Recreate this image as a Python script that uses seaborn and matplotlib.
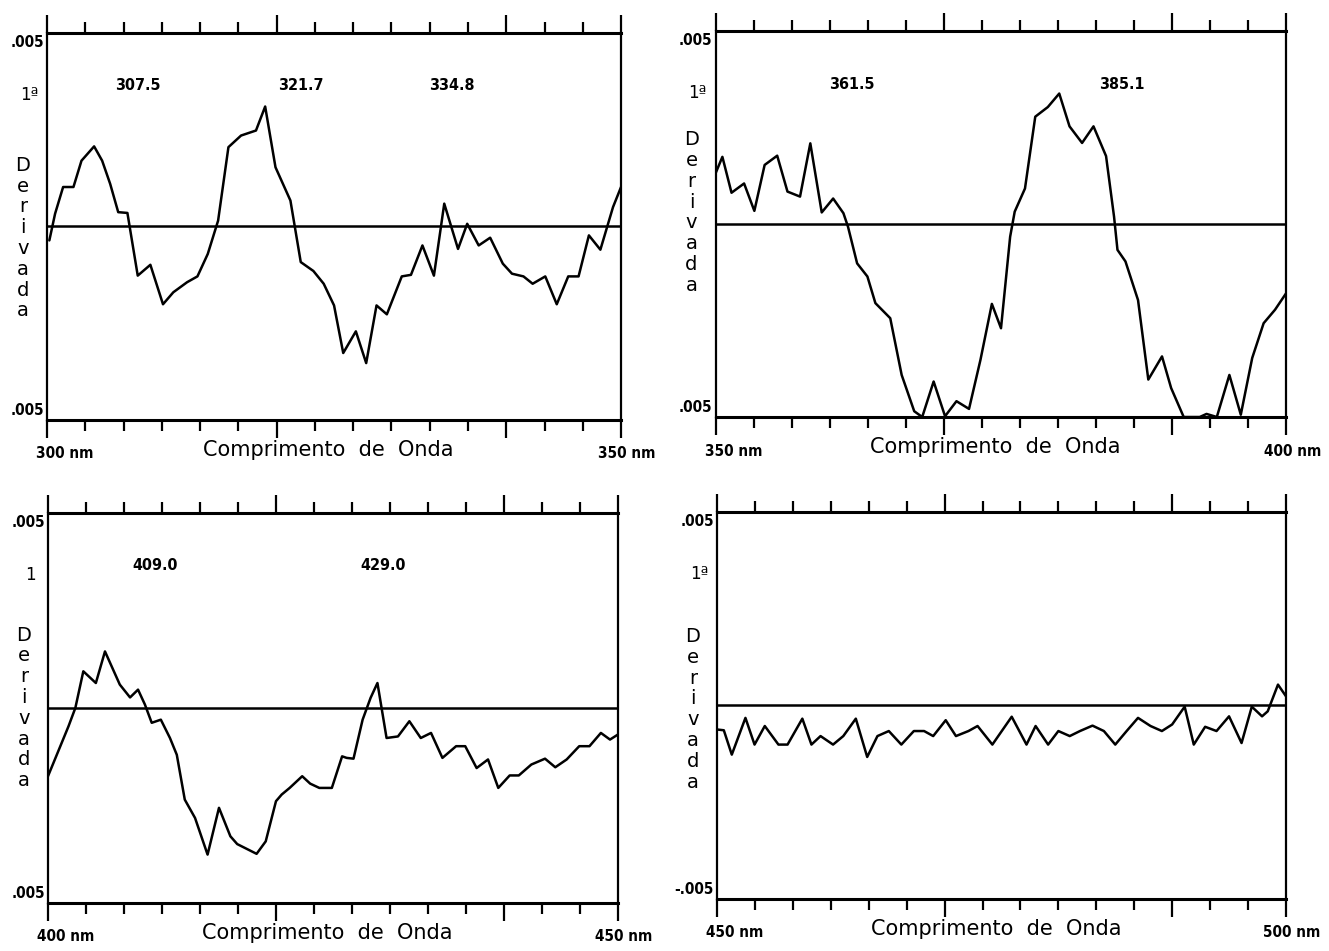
import numpy as np
import pandas as pd
import matplotlib
matplotlib.use("Agg")
import matplotlib.pyplot as plt
import seaborn as sns

# First-derivative spectra: wavelength (nm) and dA/dλ (in units of 1e-3)
wl_a = [300.2, 300.7, 301.4, 302.3, 303.0, 304.1, 304.8, 305.5, 306.2, 307.0,
        307.9, 309.0, 310.1, 311.0, 312.2, 313.1, 314.0, 314.9, 315.8, 316.9,
        318.2, 319.0, 319.9, 321.2, 322.1, 323.2, 324.1, 325.0, 325.8, 326.9,
        327.8, 328.7, 329.6, 330.9, 331.7, 332.7, 333.7, 334.6, 335.8, 336.6,
        337.6, 338.6, 339.7, 340.5, 341.5, 342.3, 343.4, 344.4, 345.4, 346.3,
        347.2, 348.2, 349.3, 350.0]
der_a = [-0.36, 0.33, 1.02, 1.02, 1.70, 2.07, 1.70, 1.10, 0.37, 0.35,
         -1.27, -0.99, -2.01, -1.70, -1.44, -1.29, -0.71, 0.15, 2.05, 2.35,
         2.48, 3.10, 1.53, 0.67, -0.92, -1.15, -1.48, -2.04, -3.27, -2.71,
         -3.53, -2.04, -2.27, -1.29, -1.25, -0.49, -1.27, 0.59, -0.58, 0.07,
         -0.49, -0.29, -0.96, -1.22, -1.29, -1.48, -1.29, -2.01, -1.29, -1.29,
         -0.23, -0.60, 0.50, 1.02]
peaks_a = [307.5, 321.7, 334.8]

wl_b = [350.0, 350.6, 351.4, 352.5, 353.4, 354.3, 355.4, 356.3, 357.4, 358.3,
        359.3, 360.3, 361.2, 361.6, 362.4, 363.3, 364.0, 365.3, 366.3, 367.4,
        368.1, 369.1, 370.1, 371.1, 372.2, 373.2, 374.2, 375.0, 375.8, 376.2,
        377.1, 378.0, 379.1, 380.1, 381.0, 382.1, 383.1, 384.2, 384.9, 385.2,
        385.9, 387.0, 387.9, 389.1, 389.9, 391.0, 392.4, 393.0, 393.9, 395.0,
        396.0, 397.0, 398.0, 399.0, 400.0]
der_b = [1.31, 1.74, 0.81, 1.05, 0.34, 1.53, 1.77, 0.84, 0.71, 2.09,
         0.30, 0.66, 0.28, -0.07, -1.02, -1.36, -2.05, -2.44, -3.91, -4.85,
         -5.00, -4.08, -4.98, -4.59, -4.79, -3.52, -2.07, -2.70, -0.33, 0.32,
         0.92, 2.78, 3.03, 3.38, 2.53, 2.10, 2.53, 1.76, 0.19, -0.67,
         -0.97, -1.97, -4.03, -3.43, -4.25, -5.00, -5.00, -4.92, -5.00, -3.91,
         -4.94, -3.47, -2.57, -2.22, -1.78]
peaks_b = [361.5, 385.1]

wl_c = [400.0, 400.9, 401.8, 402.4, 403.1, 404.2, 405.0, 406.3, 407.2, 407.9,
        408.5, 409.1, 409.9, 410.7, 411.3, 412.0, 412.9, 414.0, 415.0, 416.0,
        416.6, 418.3, 419.1, 420.0, 420.5, 421.2, 422.3, 423.0, 423.8, 424.9,
        425.8, 426.2, 426.8, 427.6, 428.3, 428.9, 429.7, 430.7, 431.7, 432.7,
        433.6, 434.6, 435.8, 436.6, 437.6, 438.6, 439.5, 440.5, 441.3, 442.4,
        443.6, 444.5, 445.5, 446.6, 447.5, 448.5, 449.3, 450.0]
der_c = [-1.75, -1.11, -0.47, 0.00, 0.94, 0.64, 1.45, 0.60, 0.27, 0.47,
         0.09, -0.38, -0.30, -0.77, -1.20, -2.35, -2.82, -3.76, -2.56, -3.29,
         -3.49, -3.74, -3.42, -2.39, -2.22, -2.05, -1.75, -1.94, -2.05, -2.05,
         -1.24, -1.28, -1.30, -0.30, 0.26, 0.64, -0.77, -0.73, -0.34, -0.77,
         -0.64, -1.28, -0.98, -0.98, -1.54, -1.32, -2.05, -1.73, -1.73, -1.45,
         -1.30, -1.52, -1.32, -0.98, -0.98, -0.64, -0.81, -0.68]
peaks_c = [409.0, 429.0]

wl_d = [450.0, 450.6, 451.3, 452.5, 453.3, 454.2, 455.4, 456.2, 457.5, 458.3,
        459.1, 460.2, 461.1, 462.2, 463.2, 464.1, 465.1, 466.2, 467.3, 468.2,
        469.0, 470.1, 471.0, 472.1, 472.9, 474.2, 475.9, 477.2, 478.0, 479.1,
        480.0, 481.0, 481.9, 483.0, 484.0, 485.0, 486.0, 487.0, 488.1, 489.1,
        490.0, 491.1, 491.9, 492.9, 493.9, 495.0, 496.1, 497.0, 497.9, 498.4,
        499.3, 500.0]
der_d = [-0.62, -0.64, -1.27, -0.32, -1.01, -0.53, -1.01, -1.01, -0.34, -1.01,
         -0.79, -1.01, -0.79, -0.34, -1.33, -0.79, -0.66, -1.01, -0.66, -0.66,
         -0.79, -0.38, -0.79, -0.66, -0.53, -1.01, -0.29, -1.01, -0.53, -1.01,
         -0.66, -0.79, -0.66, -0.52, -0.66, -1.01, -0.66, -0.32, -0.53, -0.66,
         -0.49, -0.03, -1.01, -0.55, -0.66, -0.28, -0.97, -0.03, -0.28, -0.15,
         0.54, 0.24]
peaks_d = []

ranges = [(300, 350), (350, 400), (400, 450), (450, 500)]
range_labels = [("300 nm", "350 nm"), ("350 nm", "400 nm"),
                ("400 nm", "450 nm"), ("450 nm", "500 nm")]
y_top_labels = [".005", ".005", ".005", ".005"]
y_bot_labels = [".005", ".005", ".005", "-.005"]
order_labels = ["1ª", "1ª", "1", "1ª"]
y_limit = 0.005

sns.set_style("white")
plt.rcParams["font.family"] = ["DejaVu Sans"]
plt.rcParams["text.color"] = "black"
num_style = dict(fontweight="bold", fontstretch="condensed",
                 family=["DejaVu Sans"])

fig = plt.figure(figsize=(13.29, 9.51), dpi=100)
# panel rectangles in figure fractions
rects = [
    (0.0354, 0.5584, 0.4319, 0.4069),
    (0.5384, 0.5615, 0.4296, 0.4059),
    (0.0361, 0.0505, 0.4289, 0.4101),
    (0.5395, 0.0547, 0.4281, 0.4069),
]
deriv_center = [0.47, 0.53, 0.50, 0.49]

panels = [(wl_a, der_a, peaks_a), (wl_b, der_b, peaks_b),
          (wl_c, der_c, peaks_c), (wl_d, der_d, peaks_d)]

for i, ((wl, der, peaks), rect) in enumerate(zip(panels, rects)):
    ax = fig.add_axes(rect)
    df = pd.DataFrame({"wl": wl, "der": np.array(der) * 1e-3})
    x0, x1 = ranges[i]

    ax.axhline(0, color="black", lw=1.8, zorder=1)
    sns.lineplot(data=df, x="wl", y="der", ax=ax, color="black",
                 lw=1.8, zorder=2)

    ax.set_xlim(x0, x1)
    ax.set_ylim(-y_limit, y_limit)
    ax.set_xlabel("")
    ax.set_ylabel("")
    ax.set_yticks([])

    ticks = np.linspace(x0, x1, 16)
    major = ticks[[0, 6, 12, 15]]
    minor = np.delete(ticks, [0, 6, 12, 15])
    ax.set_xticks(major)
    ax.set_xticks(minor, minor=True)
    ax.set_xticklabels([])
    ax.tick_params(axis="x", which="both", direction="out", top=True,
                   bottom=True, width=1.6, color="black")
    ax.tick_params(axis="x", which="major", length=13)
    ax.tick_params(axis="x", which="minor", length=8)

    for side in ["top", "bottom"]:
        ax.spines[side].set_linewidth(2.2)
    for side in ["left", "right"]:
        ax.spines[side].set_linewidth(1.6)
    for sp in ax.spines.values():
        sp.set_color("black")
        sp.set_visible(True)

    # vertical scale labels
    ax.annotate(y_top_labels[i], xy=(0, 1), xycoords="axes fraction",
                xytext=(-3, -2), textcoords="offset pixels", ha="right",
                va="top", fontsize=11, **num_style)
    ax.annotate(y_bot_labels[i], xy=(0, 0), xycoords="axes fraction",
                xytext=(-3, 2), textcoords="offset pixels", ha="right",
                va="bottom", fontsize=11, **num_style)
    ax.annotate(order_labels[i], xy=(0, 1), xycoords="axes fraction",
                xytext=(-18, -62), textcoords="offset pixels", ha="center",
                va="center", fontsize=12)
    ax.annotate("D\ne\nr\ni\nv\na\nd\na", xy=(0, deriv_center[i]),
                xycoords="axes fraction", xytext=(-24, 0),
                textcoords="offset pixels", ha="center", va="center",
                fontsize=14, linespacing=1.12, multialignment="center")

    # wavelengths of the derivative zero crossings
    for p in peaks:
        ax.annotate(f"{p:.1f}", xy=(p, 1), xycoords=ax.get_xaxis_transform(),
                    xytext=(5, -53), textcoords="offset pixels", ha="center",
                    va="center", fontsize=11.5, **num_style)

    # wavelength axis labels
    ax.annotate(range_labels[i][0], xy=(0, 0), xycoords="axes fraction",
                xytext=(-11, -34), textcoords="offset pixels", ha="left",
                va="center", fontsize=11, **num_style)
    ax.annotate(range_labels[i][1], xy=(1, 0), xycoords="axes fraction",
                xytext=(6, -34), textcoords="offset pixels", ha="center",
                va="center", fontsize=11, **num_style)
    ax.annotate("Comprimento  de  Onda", xy=(0.49, 0),
                xycoords="axes fraction", xytext=(0, -30),
                textcoords="offset pixels", ha="center", va="center",
                fontsize=15)

fig.savefig("out.png", dpi=100, facecolor="white")
